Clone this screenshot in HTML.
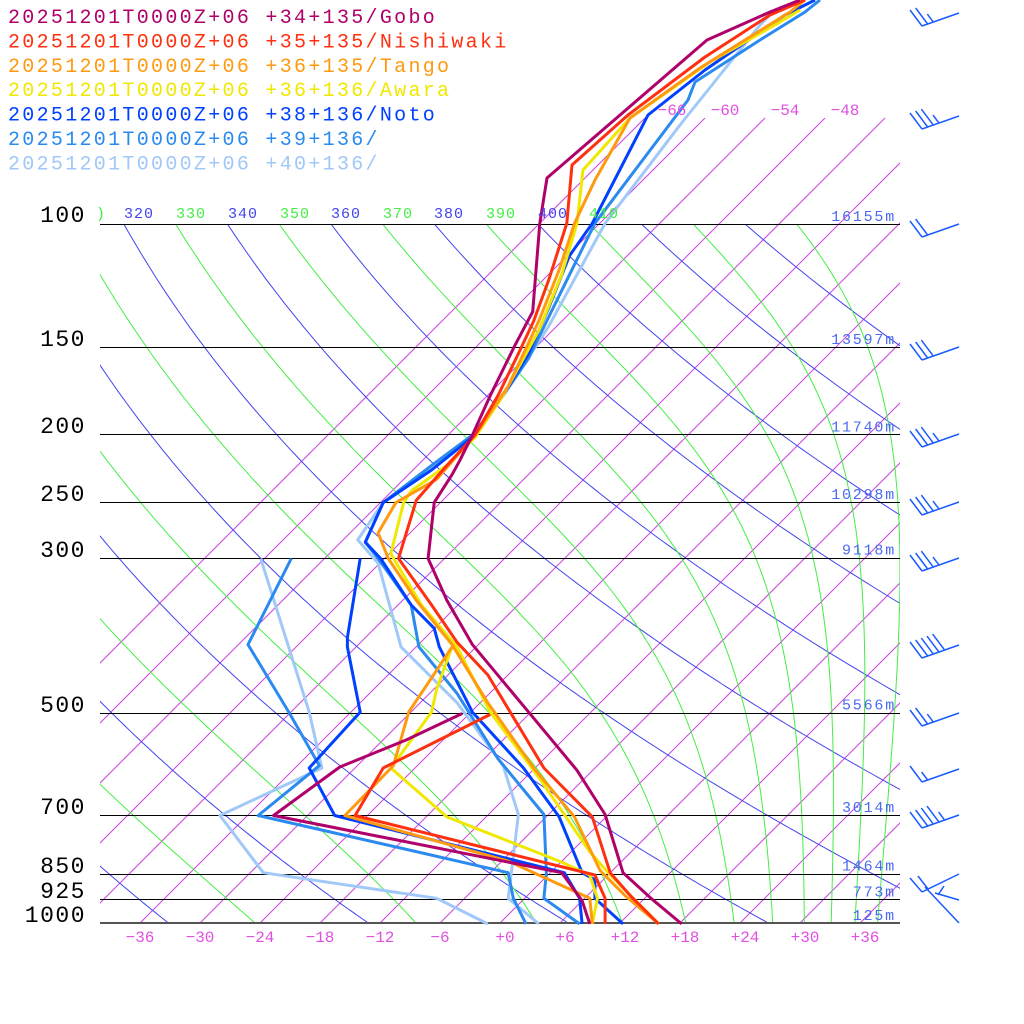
<!DOCTYPE html>
<html><head><meta charset="utf-8"><style>
html,body{margin:0;padding:0;background:#fff;width:1024px;height:1024px;overflow:hidden}
svg{display:block}
.mono{font-family:"Liberation Mono","DejaVu Sans Mono",monospace}
</style></head><body>
<svg id="s" width="1024" height="1024" xmlns="http://www.w3.org/2000/svg">
<defs>
<clipPath id="cp"><rect x="100" y="224" width="800" height="699"/></clipPath>
<clipPath id="ci"><rect x="100" y="100" width="800" height="823"/></clipPath>
</defs>
<g id="bg"></g>
<g id="snd" fill="none" stroke-width="3" stroke-linejoin="round"></g>
<g id="txt"></g>
</svg>
<script>
const NS="http://www.w3.org/2000/svg";
function el(tag,attrs,parent,text){const e=document.createElementNS(NS,tag);for(const k in attrs)e.setAttribute(k,attrs[k]);if(text!==undefined)e.textContent=text;parent.appendChild(e);return e;}
const bg=document.getElementById('bg'),snd=document.getElementById('snd'),txt=document.getElementById('txt');
const Y=p=>224+303.6*(Math.log(p)-Math.log(100));
const X=(T,y)=>500+10*T+(923-y);
const gi=el('g',{'clip-path':'url(#ci)',stroke:'#cc44dd','stroke-width':1,fill:'none'},bg);
for(let T=-66;T<=36;T+=6){const x0=X(T,923);el('line',{x1:x0,y1:923,x2:x0+805,y2:118},gi);}
const ga=el('g',{'clip-path':'url(#cp)',fill:'none','stroke-width':1},bg);
for(let th=240;th<=440;th+=20){let pts=[];for(let p=90;p<=1000;p+=5){const T=th*Math.pow(p/1000,0.286)-273.15;const y=Y(p);pts.push(X(T,y).toFixed(1)+','+y.toFixed(1));}
el('polyline',{points:pts.join(' '),stroke:'#4444ee'},ga);}
function es(T){return 6.112*Math.exp(17.67*T/(T+243.5));}
for(let th=230;th<=450;th+=20){let TK=th*Math.pow(0.1,0.286);let pts=[];
for(let p=100;p<=1000;p+=1){const Tc=TK-273.15;if(p%5==0){const y=Y(p);pts.push(X(Tc,y).toFixed(1)+','+y.toFixed(1));}
const e=es(Tc);const rs=0.622*e/(p-e);const dT=(287*TK+2.5e6*rs)/(p*(1005+2.5e6*2.5e6*rs*0.622/(287*TK*TK)));TK+=dT;}
el('polyline',{points:pts.join(' '),stroke:'#44ee44'},ga);}
[100,150,200,250,300,500,700,850,925].forEach(p=>{const y=Math.round(Y(p))+0.5;el('line',{x1:100,y1:y,x2:900,y2:y,stroke:'#000','stroke-width':1},bg);});
el('line',{x1:100,y1:923,x2:900,y2:923,stroke:'#555','stroke-width':2},bg);
const pl=[[100,'100',216],[150,'150',340],[200,'200',427],[250,'250',495],[300,'300',551],[500,'500',706],[700,'700',808],[850,'850',867],[925,'925',892],[1000,'1000',916]];
pl.forEach(([p,t,y])=>{el('text',{x:86,y:y,'text-anchor':'end','font-size':23,class:'mono','letter-spacing':1.5,fill:'#000','dominant-baseline':'middle'},txt,t);});
const hl=[[100,'16155m'],[150,'13597m'],[200,'11740m'],[250,'10298m'],[300,'9118m'],[500,'5566m'],[700,'3014m'],[850,'1464m'],[925,'773m'],[1000,'125m']];
hl.forEach(([p,t])=>{el('text',{x:896,y:Y(p)-3,'text-anchor':'end','font-size':15,class:'mono','letter-spacing':1.8,fill:'#4a6af0'},txt,t);});
for(let T=-36;T<=36;T+=6){const t=(T>=0?'+':'')+T;el('text',{x:500+10*T+(T>=0?5:0),y:942,'text-anchor':'middle','font-size':16,class:'mono',fill:'#e050e0'},txt,t.replace('-','\u2212'));}
[[-66,672],[-60,725],[-54,785],[-48,845]].forEach(([T,x])=>el('text',{x:x,y:115,'text-anchor':'middle','font-size':16,class:'mono',fill:'#e050e0'},txt,'\u2212'+(-T)));
const thl=[[')',101,'#44ee44'],['320',139,'#4444ee'],['330',191,'#44ee44'],['340',243,'#4444ee'],['350',295,'#44ee44'],['360',346,'#4444ee'],['370',398,'#44ee44'],['380',449,'#4444ee'],['390',501,'#44ee44'],['400',553,'#4444ee'],['410',604,'#44ee44']];
thl.forEach(([t,x,c])=>el('text',{x:x,y:218,'text-anchor':'middle','font-size':15,class:'mono','letter-spacing':1,fill:c},txt,t));
const leg=[['20251201T0000Z+06 +34+135/Gobo','#b0006a'],['20251201T0000Z+06 +35+135/Nishiwaki','#ff3010'],['20251201T0000Z+06 +36+135/Tango','#ff9a10'],['20251201T0000Z+06 +36+136/Awara','#f0e800'],['20251201T0000Z+06 +38+136/Noto','#0040ff'],['20251201T0000Z+06 +39+136/','#2a8af0'],['20251201T0000Z+06 +40+136/','#a0c8f8']];
leg.forEach(([t,c],i)=>el('text',{x:8,y:23+i*24.4,'font-size':20,class:'mono','letter-spacing':2.3,fill:c},txt,t));
const Z=(a)=>{let r=[];for(let i=0;i<a.length;i+=2)r.push([100+a[i]/1.96,200+a[i+1]/2.148]);return r;};
const S=[
['#b0006a',[[800,0],[770,12],[707,40],[547,178]],[862,50,848,240,812,315,765,420,730,505,705,560,690,590,655,650,643,770,680,860,730,955,840,1100,935,1225,990,1320,1025,1445,1080,1500,1140,1555],
 [710,1103,600,1160,470,1218,340,1322,905,1445,945,1505,960,1555]],
['#ff3010',[[805,0],[770,15],[705,57],[628,115],[572,165]],[915,50,880,170,850,260,820,330,780,420,735,505,680,570,620,645,585,770,650,870,700,950,760,1020,870,1220,965,1325,1000,1445,1040,1495,1095,1555],
 [765,1105,555,1220,500,1322,860,1420,970,1450,990,1500,990,1555]],
['#ff9a10',[[805,0],[790,12],[700,68],[630,118],[595,180]],[930,50,900,150,860,260,830,330,800,400,735,505,660,600,580,650,545,715,565,770,620,860,690,955,760,1080,850,1220,930,1325,980,1440,1030,1495,1095,1555],
 [690,960,660,1010,605,1100,575,1215,480,1322,800,1420,960,1500,965,1555]],
['#f0e800',[[800,10],[780,22],[710,62],[630,118],[583,170]],[935,50,905,160,860,280,830,340,790,420,735,510,680,570,610,625,595,650,570,760,630,870,700,960,765,1100,860,1240,960,1400,1000,1450,1095,1555],
 [690,960,660,1050,650,1100,570,1220,680,1325,900,1420,960,1450,975,1500,965,1555]],
['#0040ff',[[815,0],[785,15],[705,70],[648,115]],[965,50,920,120,880,230,840,330,790,420,735,505,650,580,555,650,520,735,550,770,610,870,655,920,665,960,730,1100,830,1220,900,1325,945,1445,970,1460,970,1500,1025,1555],
 [510,770,485,940,485,960,510,1100,410,1220,460,1322,910,1445,940,1500,945,1555]],
['#2a8af0',[[820,0],[805,12],[760,40],[695,82],[688,100]],[970,50,925,150,880,250,840,340,790,420,730,505,650,570,555,650,520,735,545,770,610,870,625,960,700,1060,780,1200,870,1320,875,1445,870,1500,940,1555],
 [375,770,290,955,370,1100,430,1215,310,1322,800,1445,810,1500,835,1555]],
['#a0c8f8',[[775,10],[760,25],[680,125]],[990,50,930,170,880,270,845,330,790,420,730,505,640,580,555,650,505,730,545,780,590,960,700,1080,790,1215,820,1320,800,1500,860,1555],
 [315,770,410,1100,435,1220,235,1322,320,1445,660,1500,760,1555]]
];
S.slice().reverse().forEach(([c,top,zt,zd])=>{
 const pts=top.concat(Z(zt)).map(p=>p[0].toFixed(1)+','+p[1].toFixed(1)).join(' ');
 el('polyline',{points:pts,stroke:c},snd);
 el('polyline',{points:Z(zd).map(p=>p[0].toFixed(1)+','+p[1].toFixed(1)).join(' '),stroke:c},snd);
});
const gb=el('g',{stroke:'#1a5cff','stroke-width':1.5,fill:'none'},bg);
function barb(ty,L,Sh){const bx=922,by=ty+13,tx=959;el('line',{x1:tx,y1:ty,x2:bx,y2:by},gb);
 const ux=(tx-bx)/Math.hypot(tx-bx,ty-by),uy=(ty-by)/Math.hypot(tx-bx,ty-by);
 for(let i=0;i<L+Sh;i++){const sx=bx+ux*6*i,sy=by+uy*6*i;const f=i<L?1:0.5;el('line',{x1:sx,y1:sy,x2:sx-12*f,y2:sy-16*f},gb);}}
[[13,2,1],[116,3,1],[224,2,0],[347,3,0],[434,3,1],[502,3,1],[558,3,1],[645,5,0],[713,2,1],[769,1,1],[815,4,1]].forEach(b=>barb(...b));
el('line',{x1:959,y1:874,x2:922,y2:892},gb);el('line',{x1:922,y1:892,x2:910,y2:878},gb);el('line',{x1:928,y1:889,x2:918,y2:876},gb);
el('line',{x1:959,y1:900,x2:935,y2:893},gb);el('line',{x1:959,y1:923,x2:925,y2:887},gb);el('line',{x1:938,y1:895,x2:944,y2:886},gb);
</script>
</body></html>
